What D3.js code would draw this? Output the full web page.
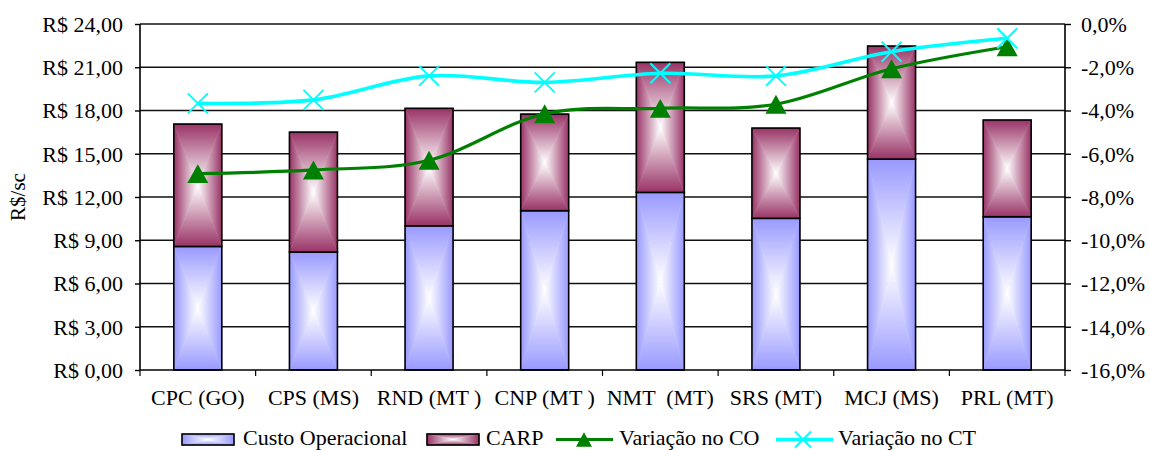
<!DOCTYPE html>
<html>
<head>
<meta charset="utf-8">
<script src="https://cdn.jsdelivr.net/npm/d3@7"></script>
<style>
  html, body { margin: 0; padding: 0; background: #fff; }
  svg { display: block; }
  text { font-family: "Liberation Serif", "Times New Roman", serif; fill: #000; }
</style>
</head>
<body>
<svg id="chart" width="1150" height="450"></svg>
<script>
// ---------- data ----------
const categories = ["CPC (GO)", "CPS (MS)", "RND (MT )", "CNP (MT )", "NMT  (MT)", "SRS (MT)", "MCJ (MS)", "PRL (MT)"];
const custoOperacional = [8.57, 8.18, 10.00, 11.05, 12.32, 10.52, 14.63, 10.63];
const carp = [8.49, 8.32, 8.15, 6.70, 9.02, 6.26, 7.84, 6.71];
const variacaoCO = [-6.92, -6.75, -6.30, -4.15, -3.90, -3.71, -2.07, -1.05];
const variacaoCT = [-3.67, -3.51, -2.40, -2.70, -2.28, -2.40, -1.28, -0.66];
const leftTicks = [0, 3, 6, 9, 12, 15, 18, 21, 24];
const leftTickLabels = ["R$ 0,00", "R$ 3,00", "R$ 6,00", "R$ 9,00", "R$ 12,00", "R$ 15,00", "R$ 18,00", "R$ 21,00", "R$ 24,00"];
const rightTicks = [-16, -14, -12, -10, -8, -6, -4, -2, 0];
const rightTickLabels = ["-16,0%", "-14,0%", "-12,0%", "-10,0%", "-8,0%", "-6,0%", "-4,0%", "-2,0%", "0,0%"];
const seriesNames = ["Custo Operacional", "CARP", "Variação no CO", "Variação no CT"];
const yTitle = "R$/sc";

// ---------- layout ----------
const L = 140, R = 1065, T = 24, B = 370;
const svg = d3.select("#chart");

const x = d3.scaleBand().domain(categories).range([L, R]).padding(0);
const barW = x.bandwidth() * 0.415;
const yL = d3.scaleLinear().domain([0, 24]).range([B, T]);
const yR = d3.scaleLinear().domain([-16, 0]).range([B, T]);

// ---------- gradients (rectangular "from center") ----------
const defs = svg.append("defs");
function makeGrads(id, color) {
  const dirs = {
    top: [0, 0, 0, 1], bottom: [0, 1, 0, 0], left: [0, 0, 1, 0], right: [1, 0, 0, 0]
  };
  Object.entries(dirs).forEach(([k, v]) => {
    const g = defs.append("linearGradient").attr("id", id + "-" + k)
      .attr("x1", v[0]).attr("y1", v[1]).attr("x2", v[2]).attr("y2", v[3]);
    g.append("stop").attr("offset", 0).attr("stop-color", color);
    g.append("stop").attr("offset", 1).attr("stop-color", "#ffffff");
  });
}
makeGrads("gBlue", "#9999ff");
makeGrads("gPlum", "#993366");

function gradRect(g, x0, y0, w, h, id) {
  const cx = x0 + w / 2, cy = y0 + h / 2;
  const tris = {
    top: [[x0, y0], [x0 + w, y0], [cx, cy]],
    bottom: [[x0, y0 + h], [x0 + w, y0 + h], [cx, cy]],
    left: [[x0, y0], [x0, y0 + h], [cx, cy]],
    right: [[x0 + w, y0], [x0 + w, y0 + h], [cx, cy]]
  };
  Object.entries(tris).forEach(([k, pts]) => {
    g.append("polygon").attr("points", pts.map(p => p.join(",")).join(" "))
      .attr("fill", `url(#${id}-${k})`).attr("stroke", `url(#${id}-${k})`).attr("stroke-width", 0.6);
  });
  g.append("rect").attr("x", x0).attr("y", y0).attr("width", w).attr("height", h)
    .attr("fill", "none").attr("stroke", "#000").attr("stroke-width", 1.6);
}

// ---------- gridlines ----------
svg.append("g").selectAll("line").data(leftTicks.filter(d => d > 0)).join("line")
  .attr("x1", L).attr("x2", R).attr("y1", d => yL(d)).attr("y2", d => yL(d))
  .attr("stroke", "#111").attr("stroke-width", 1.4);

// ---------- bars ----------
const barsG = svg.append("g");
categories.forEach((c, i) => {
  const bx = x(c) + (x.bandwidth() - barW) / 2;
  const y0 = yL(custoOperacional[i]);
  gradRect(barsG, bx, y0, barW, yL(0) - y0, "gBlue");
  const y1 = yL(custoOperacional[i] + carp[i]);
  gradRect(barsG, bx, y1, barW, y0 - y1, "gPlum");
});

// ---------- axes ----------
const axL = svg.append("g").attr("transform", `translate(${L},0)`)
  .call(d3.axisLeft(yL).tickValues(leftTicks).tickSize(5).tickPadding(12)
    .tickFormat((d, i) => leftTickLabels[i]));
const axR = svg.append("g").attr("transform", `translate(${R},0)`)
  .call(d3.axisRight(yR).tickValues(rightTicks).tickSize(6).tickPadding(10)
    .tickFormat((d, i) => rightTickLabels[i]));
[axL, axR].forEach(a => {
  a.attr("font-family", null);
  a.selectAll(".tick line").attr("stroke", "#000").attr("stroke-width", 1.4);
  a.selectAll(".tick text").attr("font-size", 22).attr("dy", "0.33em");
});
axL.select(".domain").remove();
axR.select(".domain").remove();
svg.append("line").attr("x1", L).attr("x2", L).attr("y1", T).attr("y2", B).attr("stroke", "#000").attr("stroke-width", 1.6);
svg.append("line").attr("x1", R).attr("x2", R).attr("y1", T).attr("y2", B).attr("stroke", "#000").attr("stroke-width", 1.6);

// bottom axis
const bottomTicks = d3.range(categories.length + 1).map(i => L + i * x.step());
svg.append("line").attr("x1", L).attr("x2", R).attr("y1", B).attr("y2", B).attr("stroke", "#000").attr("stroke-width", 1.6);
svg.append("g").selectAll("line").data(bottomTicks).join("line")
  .attr("x1", d => d).attr("x2", d => d).attr("y1", B).attr("y2", B + 6)
  .attr("stroke", "#000").attr("stroke-width", 1.2);
svg.append("g").selectAll("text").data(categories).join("text")
  .attr("x", d => x(d) + x.bandwidth() / 2).attr("y", 405)
  .attr("text-anchor", "middle").attr("font-size", 22).style("white-space", "pre")
  .text(d => d);

// y title
svg.append("text").attr("transform", `translate(25,${(T + B) / 2}) rotate(-90)`)
  .attr("text-anchor", "middle").attr("font-size", 21).text(yTitle);

// ---------- lines ----------
const cx = i => x(categories[i]) + x.bandwidth() / 2;
const lineGen = d3.line().x((d, i) => cx(i)).y(d => yR(d)).curve(d3.curveCatmullRom.alpha(0));
svg.append("path").datum(variacaoCO).attr("d", lineGen)
  .attr("fill", "none").attr("stroke", "#008000").attr("stroke-width", 3.2);
svg.append("path").datum(variacaoCT).attr("d", lineGen)
  .attr("fill", "none").attr("stroke", "#00ffff").attr("stroke-width", 3.6);

const triType = {
  draw(ctx, size) {
    const w = Math.sqrt(size) / 2, h = w * 0.9;
    ctx.moveTo(0, -h); ctx.lineTo(w, h); ctx.lineTo(-w, h); ctx.closePath();
  }
};
const xType = {
  draw(ctx, size) {
    const r = Math.sqrt(size) / 2;
    ctx.moveTo(-r, -r); ctx.lineTo(r, r); ctx.moveTo(r, -r); ctx.lineTo(-r, r);
  }
};
const triSym = d3.symbol().type(triType).size(21 * 21);
const xSym = d3.symbol().type(xType).size(20 * 20);

svg.append("g").selectAll("path").data(variacaoCO).join("path")
  .attr("transform", (d, i) => `translate(${cx(i)},${yR(d)})`)
  .attr("d", triSym).attr("fill", "#008000");
svg.append("g").selectAll("path").data(variacaoCT).join("path")
  .attr("transform", (d, i) => `translate(${cx(i)},${yR(d)})`)
  .attr("d", xSym).attr("fill", "none").attr("stroke", "#00ffff").attr("stroke-width", 2);

// ---------- legend ----------
const legY = 439.5, legBase = 445;
const lg = svg.append("g");
gradRect(lg, 182, legY - 5.5, 52, 11, "gBlue");
lg.append("text").attr("x", 243).attr("y", legBase).attr("font-size", 22).text(seriesNames[0]);
gradRect(lg, 427, legY - 5.5, 52, 11, "gPlum");
lg.append("text").attr("x", 486).attr("y", legBase).attr("font-size", 22).text(seriesNames[1]);
lg.append("line").attr("x1", 556).attr("x2", 613).attr("y1", legY).attr("y2", legY)
  .attr("stroke", "#008000").attr("stroke-width", 3.2);
lg.append("path").attr("transform", `translate(584,${legY})`).attr("d", d3.symbol().type(triType).size(16 * 16)).attr("fill", "#008000");
lg.append("text").attr("x", 619).attr("y", legBase).attr("font-size", 22).text(seriesNames[2]);
lg.append("line").attr("x1", 776).attr("x2", 833).attr("y1", legY).attr("y2", legY)
  .attr("stroke", "#00ffff").attr("stroke-width", 3.6);
lg.append("path").attr("transform", `translate(803,${legY})`).attr("d", d3.symbol().type(xType).size(16 * 16))
  .attr("fill", "none").attr("stroke", "#00ffff").attr("stroke-width", 2);
lg.append("text").attr("x", 838).attr("y", legBase).attr("font-size", 22).text(seriesNames[3]);
</script>
</body>
</html>
